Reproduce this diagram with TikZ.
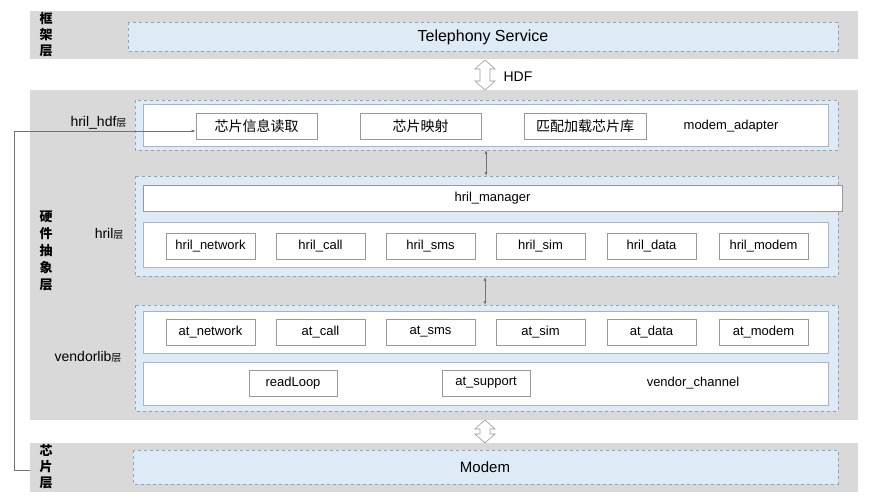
\documentclass[tikz,border=0pt]{standalone}
\usepackage{fontspec}
\setmainfont{Liberation Sans}
\newfontfamily\cjk{Noto Sans CJK SC}
\usetikzlibrary{arrows.meta}
\definecolor{band}{HTML}{D9D9D9}
\definecolor{lblue}{HTML}{DEEAF6}
\definecolor{dashc}{HTML}{8FA3B8}
\newcommand{\hollowarrow}[3]{% x, top, bottom
  \draw[draw=gray!80,fill=white,line width=0.6pt,line join=miter]
   (#1,#2) -- ++(10,9) -- ++(-5,0) -- (#1+5,#3-9) -- ++(5,0) -- (#1,#3) -- ++(-10,-9) -- ++(5,0)
   -- (#1-5,#2+9) -- ++(-5,0) -- cycle;}
\begin{document}
\begin{tikzpicture}[x=1pt,y=-1pt,
  band/.style={fill=band,draw=none},
  dbox/.style={fill=lblue,draw=dashc,dashed,line width=0.6pt},
  wbox/.style={fill=white,draw=dashc!80,line width=0.6pt},
  mod/.style={fill=white,draw=gray!80,line width=0.6pt,minimum height=26pt,inner sep=0pt,font=\fontsize{13}{13}\selectfont},
  lay/.style={font=\cjk\bfseries\fontsize{13}{16}\selectfont,align=center},
  sub/.style={anchor=east,font=\fontsize{14}{14}\selectfont},
  con/.style={draw=gray!90!black,line width=0.6pt,{Latex[length=4pt,width=3pt]}-{Latex[length=4pt,width=3pt]}}]
\useasboundingbox (0,0) rectangle (888,500);
\fill[white] (0,0) rectangle (888,500);
% bands
\path[band] (30,11) rectangle (858,59);
\path[band] (30,90) rectangle (858,420);
\path[band] (30,443) rectangle (858,492);
% framework
\draw[dbox] (128,22) rectangle (838,51);
\node[font=\fontsize{16}{16}\selectfont] (tel) at (483,37) {Telephony Service};
\node[lay] (l1) at (46,35) {框\\架\\层};
\hollowarrow{485}{60}{90}
\node[font=\fontsize{14}{14}\selectfont,anchor=west] (hdft) at (500,77) {HDF};
% hril_hdf
\draw[dbox] (135,100) rectangle (838,150);
\draw[wbox] (143,104) rectangle (828,146);
\node[mod,minimum width=121pt,font=\cjk\fontsize{14}{14}\selectfont] (c1) at (256.5,126) {芯片信息读取};
\node[mod,minimum width=121pt,font=\cjk\fontsize{14}{14}\selectfont] (c2) at (420.5,126) {芯片映射};
\node[mod,minimum width=122pt,font=\cjk\fontsize{14}{14}\selectfont] (c3) at (585,126) {匹配加载芯片库};
\node[font=\fontsize{13}{13}\selectfont] (ma) at (731,126) {modem\_adapter};
\node[sub] (s1) at (130,123) {hril\_hdf{\cjk\fontsize{10}{10}\selectfont 层}};
% hril
\draw[dbox] (135,176) rectangle (838,276);
\node[mod,minimum width=699pt] (hm) at (492.5,198) {hril\_manager};
\draw[wbox] (143,222) rectangle (828,267);
\node[mod,minimum width=89pt] (h1) at (210.5,246) {hril\_network};
\node[mod,minimum width=89pt] (h2) at (320.5,246) {hril\_call};
\node[mod,minimum width=89pt] (h3) at (430.5,246) {hril\_sms};
\node[mod,minimum width=89pt] (h4) at (540.5,246) {hril\_sim};
\node[mod,minimum width=89pt] (h5) at (651.5,246) {hril\_data};
\node[mod,minimum width=89pt] (h6) at (763.5,246) {hril\_modem};
\node[sub] (s2) at (127,234) {hril{\cjk\fontsize{10}{10}\selectfont 层}};
\node[lay,font=\cjk\bfseries\fontsize{13}{17}\selectfont] (l2) at (46,251) {硬\\件\\抽\\象\\层};
% vendorlib
\draw[dbox] (135,305) rectangle (838,411);
\draw[wbox] (143,311) rectangle (828,353);
\node[mod,minimum width=89pt] (a1) at (210.5,332) {at\_network};
\node[mod,minimum width=89pt] (a2) at (320.5,332) {at\_call};
\node[mod,minimum width=89pt] (a3) at (430.5,332) {at\_sms};
\node[mod,minimum width=89pt] (a4) at (540.5,332) {at\_sim};
\node[mod,minimum width=89pt] (a5) at (651.5,332) {at\_data};
\node[mod,minimum width=89pt] (a6) at (763.5,332) {at\_modem};
\draw[wbox] (143,362) rectangle (828,405);
\node[mod,minimum width=88pt] (r1) at (293,383) {readLoop};
\node[mod,minimum width=88pt] (r2) at (486,383) {at\_support};
\node[font=\fontsize{13}{13}\selectfont] (vc) at (693,383) {vendor\_channel};
\node[sub] (s3) at (125,357) {vendorlib{\cjk\fontsize{10}{10}\selectfont 层}};
% connectors
\coordinate (p1) at (486,150);
\coordinate (p2) at (486,176);
\coordinate (p3) at (485,277);
\coordinate (p4) at (485,305);
\draw[con] (p1) -- (p2);
\draw[con] (p3) -- (p4);
\hollowarrow{485}{420}{443}
% chip
\draw[dbox] (133,450) rectangle (838,484);
\node[font=\fontsize{15}{15}\selectfont] (modem) at (485,467) {Modem};
\node[lay] (l3) at (46,467) {芯\\片\\层};
\coordinate (q0) at (30,470);
\coordinate (q1) at (14,470);
\coordinate (q2) at (14,131);
\draw[gray!90!black,line width=0.6pt,-{Latex[length=4pt,width=3pt]}] (q0) -- (q1) -- (q2) -- (q2 -| c1.west);
\end{tikzpicture}
\end{document}
